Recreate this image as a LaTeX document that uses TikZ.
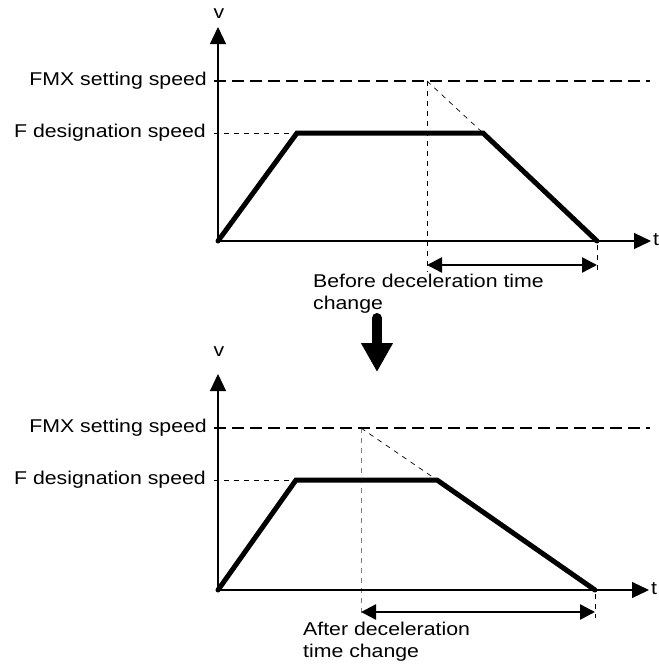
\documentclass[tikz,border=0pt]{standalone}
\usepackage{fontspec}
\setmainfont[FakeStretch=1.15]{Liberation Sans}
\usetikzlibrary{arrows.meta}
\tikzset{
  axis/.style={line width=1.2pt, -{Triangle[length=17pt,width=16pt]}},
  fmxline/.style={line width=1.4pt, dash pattern=on 12pt off 6pt},
  thindash/.style={line width=0.7pt, dash pattern=on 5pt off 5pt},
  profile/.style={line width=5pt, line join=miter, line cap=round},
  span/.style={line width=2.5pt, {Triangle[length=15pt,width=15pt]}-{Triangle[length=15pt,width=15pt]}},
  lbl/.style={font=\fontsize{18.5}{22}\selectfont, inner sep=0pt},
  bigarrow/.style={line width=10pt, line cap=round, -{Triangle[length=29pt,width=30pt]}}
}
\begin{document}
\begin{tikzpicture}[x=1pt,y=-1pt]
\useasboundingbox (0,0) rectangle (659,670);
% ---------- top chart ----------
\coordinate (O1) at (218,241);
\coordinate (V1) at (218,27);
\coordinate (T1) at (651,241);
\coordinate (FA1) at (214,81);
\coordinate (FB1) at (650,81);
\coordinate (DA1) at (214,133);
\coordinate (P1a) at (297,133);
\coordinate (P1b) at (483,133);
\coordinate (P1c) at (597,241);
\coordinate (C1) at (427,81);
\coordinate (C1b) at (427,272);
\coordinate (E1a) at (597,245);
\coordinate (E1b) at (597,272);
\coordinate (S1a) at (427,265);
\coordinate (S1b) at (597,265);
\node[lbl] (v1) at (219,14) {v};
\node[lbl,anchor=west] (t1) at (653,240) {t};
\node[lbl,anchor=east] (fmx1) at (207,81) {FMX setting speed};
\node[lbl,anchor=east] (fd1) at (206,133) {F designation speed};
\draw[fmxline] (FA1) -- (FB1);
\draw[thindash] (DA1) -- (P1a);
\draw[thindash] (C1) -- (C1b);
\draw[thindash] (C1) -- (P1b);
\draw[thindash] (E1a) -- (E1b);
\draw[axis] (O1) -- (V1);
\draw[axis] (O1) -- (T1);
\draw[profile] (O1) -- (P1a) -- (P1b) -- (P1c);
\draw[span] (S1a) -- (S1b);
\node[lbl,anchor=north west,align=left] (b1) at (313,274) {Before deceleration time\\change};
% ---------- big arrow ----------
\coordinate (BA) at (377,318);
\coordinate (BB) at (377,372);
\draw[bigarrow] (BA) -- (BB);
% ---------- bottom chart ----------
\coordinate (O2) at (218,590);
\coordinate (V2) at (218,374);
\coordinate (T2) at (649,590);
\coordinate (FA2) at (214,428);
\coordinate (FB2) at (650,428);
\coordinate (DA2) at (214,480);
\coordinate (P2a) at (296,480);
\coordinate (P2b) at (437,480);
\coordinate (P2c) at (595,590);
\coordinate (C2) at (361,428);
\coordinate (C2b) at (361,618);
\coordinate (E2a) at (595,594);
\coordinate (E2b) at (595,618);
\coordinate (S2a) at (361,612);
\coordinate (S2b) at (595,612);
\node[lbl] (v2) at (219,352) {v};
\node[lbl,anchor=west] (t2) at (651,589) {t};
\node[lbl,anchor=east] (fmx2) at (207,428) {FMX setting speed};
\node[lbl,anchor=east] (fd2) at (206,480) {F designation speed};
\draw[fmxline] (FA2) -- (FB2);
\draw[thindash] (DA2) -- (P2a);
\draw[thindash,gray] (C2) -- (C2b);
\draw[thindash] (C2) -- (P2b);
\draw[thindash] (E2a) -- (E2b);
\draw[axis] (O2) -- (V2);
\draw[axis] (O2) -- (T2);
\draw[profile] (O2) -- (P2a) -- (P2b) -- (P2c);
\draw[span] (S2a) -- (S2b);
\node[lbl,anchor=north west,align=left] (a2) at (303,622) {After deceleration\\time change};
\end{tikzpicture}
\end{document}
